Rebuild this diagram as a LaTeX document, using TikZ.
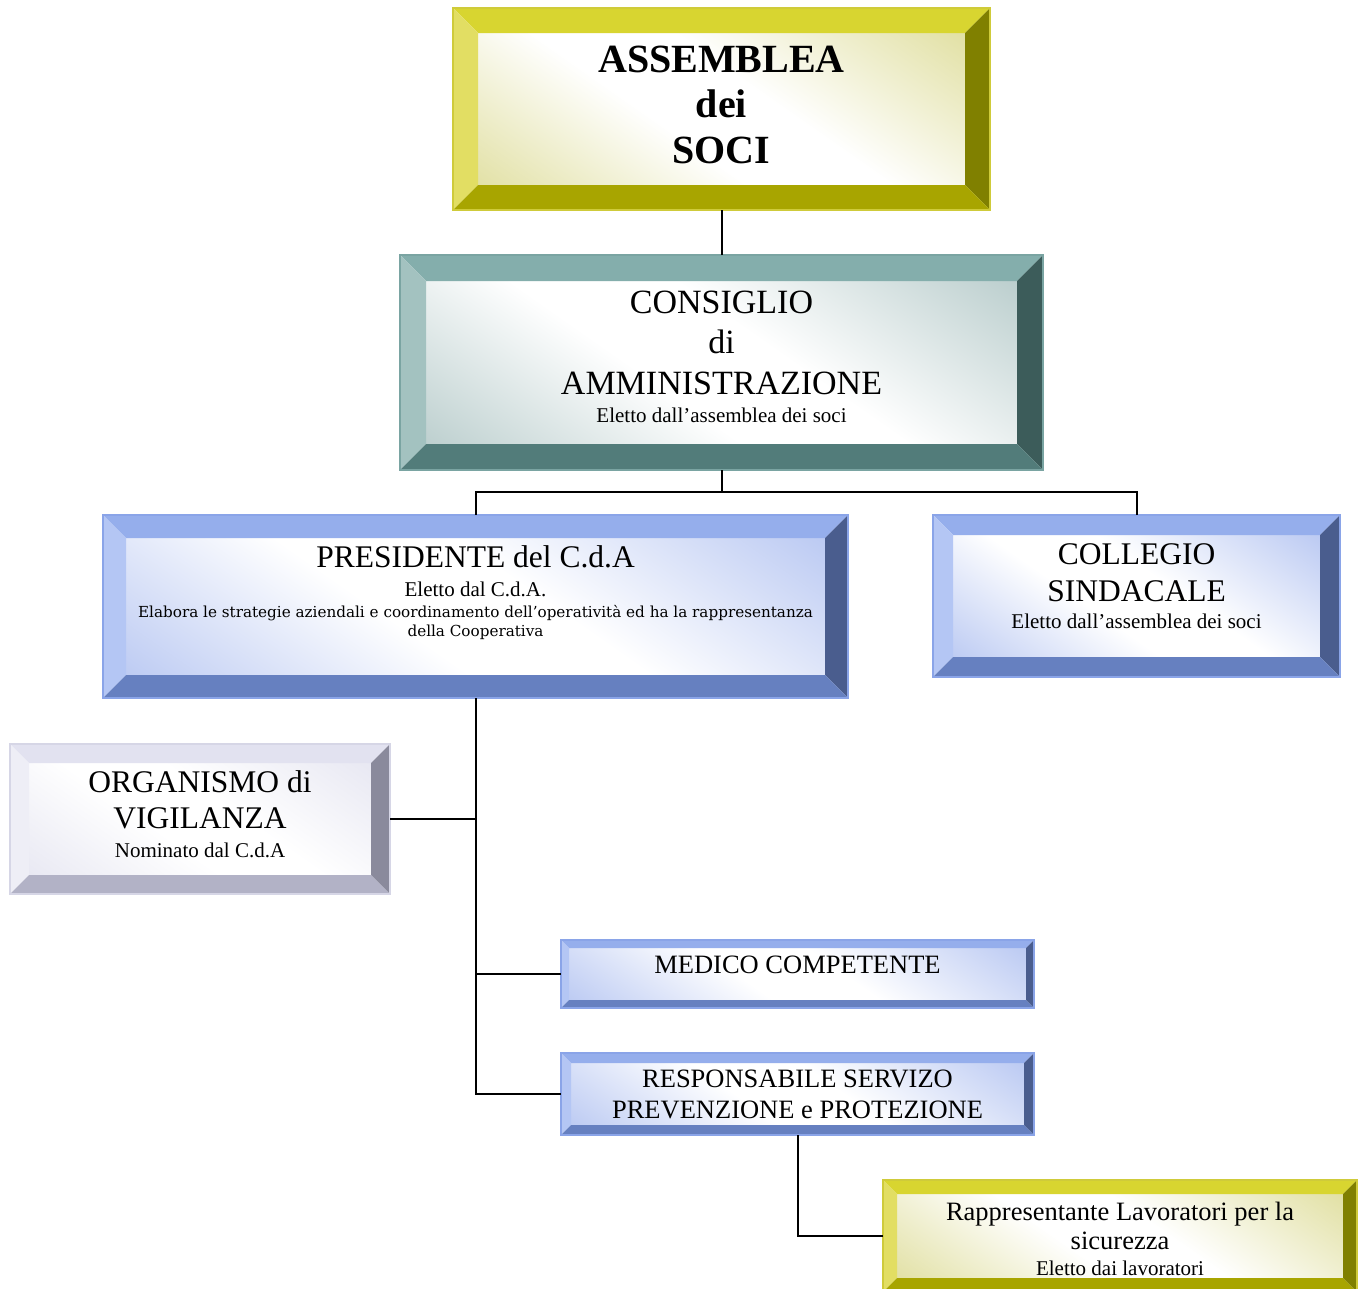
\documentclass[tikz,border=0pt]{standalone}
\usepackage{fontspec}
\setmainfont{Liberation Serif}
\newfontfamily\widefont{DejaVu Serif}
\definecolor{ytop}{HTML}{D8D530}\definecolor{yleft}{HTML}{E2DE63}\definecolor{yright}{HTML}{808000}\definecolor{ybot}{HTML}{A8A500}\definecolor{yin}{HTML}{D2D074}\definecolor{yline}{HTML}{CFCB3A}
\definecolor{ttop}{HTML}{84AEAC}\definecolor{tleft}{HTML}{A3C2C0}\definecolor{tright}{HTML}{3C5C5A}\definecolor{tbot}{HTML}{527C7A}\definecolor{tin}{HTML}{98B5B4}\definecolor{tline}{HTML}{7AA4A2}
\definecolor{btop}{HTML}{95AEEC}\definecolor{bleft}{HTML}{B4C6F4}\definecolor{bright}{HTML}{4A5D8E}\definecolor{bbot}{HTML}{6680C0}\definecolor{bin}{HTML}{98AEEC}\definecolor{bline}{HTML}{8AA4E8}
\definecolor{ltop}{HTML}{E2E2F0}\definecolor{lleft}{HTML}{EEEEF6}\definecolor{lright}{HTML}{8A8A9C}\definecolor{lbot}{HTML}{B2B2C6}\definecolor{lin}{HTML}{DCDCEC}\definecolor{lline}{HTML}{D6D6E6}
\pgfdeclareverticalshading{shy}{100bp}{color(0bp)=(yin); color(42bp)=(white); color(56bp)=(white); color(100bp)=(yin)}
\pgfdeclareverticalshading{sht}{100bp}{color(0bp)=(tin); color(42bp)=(white); color(56bp)=(white); color(100bp)=(tin)}
\pgfdeclareverticalshading{shb}{100bp}{color(0bp)=(bin); color(42bp)=(white); color(56bp)=(white); color(100bp)=(bin)}
\pgfdeclareverticalshading{shl}{100bp}{color(0bp)=(lin); color(42bp)=(white); color(56bp)=(white); color(100bp)=(lin)}
% name, x1, y1, x2, y2, bevel, colour prefix
\newcommand{\bevelbox}[7]{%
  \shade[shading=sh#7, shading angle=-35]
    ({#2+#6},{#3+#6}) rectangle ({#4-#6},{#5-#6});
  \fill[#7top] (#2,#3) -- (#4,#3) -- ({#4-#6},{#3+#6}) -- ({#2+#6},{#3+#6}) -- cycle;
  \fill[#7left] (#2,#3) -- ({#2+#6},{#3+#6}) -- ({#2+#6},{#5-#6}) -- (#2,#5) -- cycle;
  \fill[#7right] (#4,#3) -- (#4,#5) -- ({#4-#6},{#5-#6}) -- ({#4-#6},{#3+#6}) -- cycle;
  \fill[#7bot] (#2,#5) -- (#4,#5) -- ({#4-#6},{#5-#6}) -- ({#2+#6},{#5-#6}) -- cycle;
  \draw[#7line, line width=1.2pt] (#2,#3) rectangle (#4,#5);
  \node[inner sep=0pt, minimum width={(#4-#2)*1pt}, minimum height={(#5-#3)*1pt}] (#1) at ({(#2+#4)/2},{(#3+#5)/2}) {};
}
\tikzset{
  txt/.style={anchor=base, inner sep=0pt, text=black},
  conn/.style={line width=2pt, black},
}
\newcommand{\fs}[1]{\fontsize{#1}{#1}\selectfont}
\begin{document}
\begin{tikzpicture}[x=1pt, y=-1pt]
\useasboundingbox (0,0) rectangle (1364,1288);
\fill[white] (0,0) rectangle (1364,1288);

\bevelbox{assemblea}{453}{8}{990}{210}{25}{y}
\bevelbox{consiglio}{400}{255}{1043}{470}{26}{t}
\bevelbox{presidente}{103}{515}{848}{698}{23}{b}
\bevelbox{collegio}{933}{515}{1340}{677}{20}{b}
\bevelbox{organismo}{10}{744}{390}{894}{19}{l}
\bevelbox{medico}{561}{940}{1034}{1008}{8}{b}
\bevelbox{responsabile}{561}{1053}{1034}{1135}{10}{b}
\bevelbox{rappresentante}{883}{1180}{1357}{1292}{14}{y}

% connectors
\coordinate (j1) at (721.5,492);
\draw[conn] (assemblea.south) -- (consiglio.north);
\draw[conn] (consiglio.south) -- (j1) -| (presidente.north);
\draw[conn] (j1) -| (collegio.north);
\draw[conn] (presidente.south) |- (responsabile.west);
\draw[conn] (organismo.east) -- (organismo.east -| presidente.south);
\draw[conn] (medico.west) -- (medico.west -| presidente.south);
\draw[conn] (responsabile.south) |- (rappresentante.west);

% texts
\node[txt, font=\fs{40}\bfseries] (a1) at (721.5,72) {ASSEMBLEA};
\node[txt, font=\fs{40}\bfseries] (a2) at (721.5,117) {dei};
\node[txt, font=\fs{40}\bfseries] (a3) at (721.5,163) {SOCI};

\node[txt, font=\fs{34}] (c1) at (721.5,313) {CONSIGLIO};
\node[txt, font=\fs{34}] (c2) at (721.5,353) {di};
\node[txt, font=\fs{34}] (c3) at (721.5,394) {AMMINISTRAZIONE};
\node[txt, font=\fs{21}] (c4) at (721.5,422) {Eletto dall’assemblea dei soci};

\node[txt, font=\fs{31.5}] (p1) at (475.5,567) {PRESIDENTE del C.d.A};
\node[txt, font=\fs{21}] (p2) at (475.5,596) {Eletto dal C.d.A.};
\node[txt, font=\widefont\fs{15.2}] (p3) at (475.5,617) {Elabora le strategie aziendali e coordinamento dell’operatività ed ha la rappresentanza};
\node[txt, font=\widefont\fs{15.2}] (p4) at (475.5,636) {della Cooperativa};

\node[txt, font=\fs{31.5}] (s1) at (1136.5,564) {COLLEGIO};
\node[txt, font=\fs{31.5}] (s2) at (1136.5,601) {SINDACALE};
\node[txt, font=\fs{21}] (s3) at (1136.5,628) {Eletto dall’assemblea dei soci};

\node[txt, font=\fs{31.5}] (o1) at (200,792) {ORGANISMO di};
\node[txt, font=\fs{31.5}] (o2) at (200,828) {VIGILANZA};
\node[txt, font=\fs{21}] (o3) at (200,857) {Nominato dal C.d.A};

\node[txt, font=\fs{26.5}] (m1) at (797.5,973) {MEDICO COMPETENTE};

\node[txt, font=\fs{26.5}] (r1) at (797.5,1087) {RESPONSABILE SERVIZO};
\node[txt, font=\fs{26.5}] (r2) at (797.5,1118) {PREVENZIONE e PROTEZIONE};

\node[txt, font=\fs{26.5}] (l1) at (1120,1220) {Rappresentante Lavoratori per la};
\node[txt, font=\fs{26.5}] (l2) at (1120,1249) {sicurezza};
\node[txt, font=\fs{21}] (l3) at (1120,1275) {Eletto dai lavoratori};
\end{tikzpicture}
\end{document}
